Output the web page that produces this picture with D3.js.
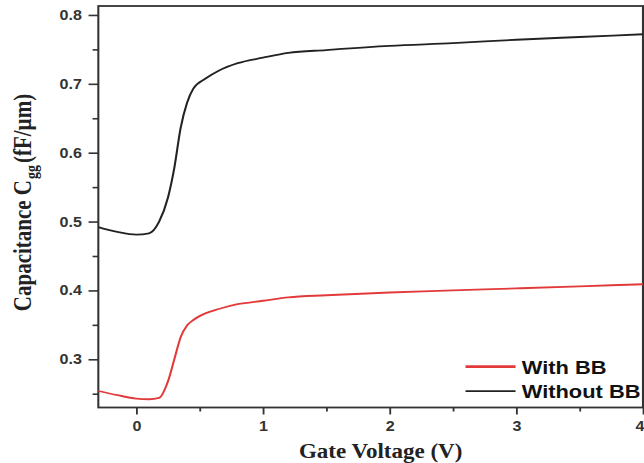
<!DOCTYPE html>
<html>
<head>
<meta charset="utf-8">
<script src="https://cdn.jsdelivr.net/npm/d3@7"></script>
<style>
  body { margin: 0; background: #fff; }
  svg { display: block; }
</style>
</head>
<body>
<div id="chart"></div>
<script>
// Cgg vs gate voltage, with / without back bias
const voltage   = [-0.3, -0.15, 0, 0.1, 0.18, 0.25, 0.3, 0.35, 0.4, 0.45, 0.55, 0.65, 0.8, 1.0, 1.2, 1.5, 2.0, 2.5, 3.0, 3.5, 4.0];
const withBB    = [0.254, 0.248, 0.243, 0.242, 0.244, 0.268, 0.300, 0.332, 0.349, 0.357, 0.367, 0.373, 0.380, 0.385, 0.390, 0.393, 0.397, 0.400, 0.403, 0.406, 0.409];
const withoutBB = [0.492, 0.485, 0.481, 0.483, 0.500, 0.535, 0.578, 0.636, 0.672, 0.693, 0.708, 0.719, 0.730, 0.738, 0.745, 0.749, 0.755, 0.759, 0.764, 0.768, 0.772];

const seriesNames  = ["With BB", "Without BB"];
const seriesColors = ["#e23a3a", "#222222"];

const xTicks      = [0, 1, 2, 3, 4];
const xMinorTicks = [0.5, 1.5, 2.5, 3.5];
const yTicks      = [0.3, 0.4, 0.5, 0.6, 0.7, 0.8];
const yMinorTicks = [0.25, 0.35, 0.45, 0.55, 0.65, 0.75];

// the source figure is stretched sideways, so draw narrow and stretch it
const S = 1.15;
const W = 644 / S, H = 463;
const plot = {left: 85.5, right: 559.1, top: 6, bottom: 407.5};

const svg = d3.select("#chart").append("svg")
    .attr("width", 644)
    .attr("height", 463)
    .attr("viewBox", "0 0 " + W + " " + H)
    .attr("preserveAspectRatio", "none");

const x = d3.scaleLinear().domain([-0.3, 4.0]).range([plot.left, plot.right]);
const y = d3.scaleLinear().domain([0.23, 0.813]).range([plot.bottom, plot.top]);

// axes
const xAxis = svg.append("g")
    .attr("transform", "translate(0," + plot.bottom + ")")
    .call(d3.axisBottom(x).tickValues(xTicks).tickFormat(d3.format("d")).tickSize(7).tickPadding(7));
svg.append("g")
    .attr("transform", "translate(0," + plot.bottom + ")")
    .call(d3.axisBottom(x).tickValues(xMinorTicks).tickFormat("").tickSize(4));

const yAxis = svg.append("g")
    .attr("transform", "translate(" + plot.left + ",0)")
    .call(d3.axisLeft(y).tickValues(yTicks).tickFormat(d3.format(".1f")).tickSize(8.5).tickPadding(5.7));
svg.append("g")
    .attr("transform", "translate(" + plot.left + ",0)")
    .call(d3.axisLeft(y).tickValues(yMinorTicks).tickFormat("").tickSize(5));

svg.selectAll(".domain").remove();
svg.selectAll(".tick line").attr("stroke", "#333").attr("stroke-width", 1.6);
svg.selectAll(".tick text")
    .attr("fill", "#333")
    .attr("font-family", "'Liberation Sans', Arial, sans-serif")
    .attr("font-weight", "bold")
    .attr("font-size", 14);

// last x label sits on the right edge, keep it inside
xAxis.selectAll(".tick text").filter(function(d) { return d === 4; })
    .attr("text-anchor", "end")
    .attr("x", 0.8);

// frame
svg.append("rect")
    .attr("x", plot.left)
    .attr("y", plot.top)
    .attr("width", plot.right - plot.left)
    .attr("height", plot.bottom - plot.top)
    .attr("fill", "none")
    .attr("stroke", "#333")
    .attr("stroke-width", 1.8);

// curves
const line = d3.line()
    .x(function(d, i) { return x(voltage[i]); })
    .y(function(d) { return y(d); })
    .curve(d3.curveMonotoneX);

[withBB, withoutBB].forEach(function(vals, k) {
  svg.append("path")
      .datum(vals)
      .attr("fill", "none")
      .attr("stroke", seriesColors[k])
      .attr("stroke-width", 1.8)
      .attr("d", line);
});

// legend
const legend = svg.append("g")
    .attr("font-family", "'Liberation Sans', Arial, sans-serif")
    .attr("font-weight", "bold")
    .attr("font-size", 19)
    .selectAll("g")
    .data(seriesNames)
    .enter().append("g")
    .attr("transform", function(d, i) { return "translate(0," + (366.7 + i * 24.5) + ")"; });

legend.append("line")
    .attr("x1", 404.8)
    .attr("x2", 448.3)
    .attr("stroke", function(d, i) { return seriesColors[i]; })
    .attr("stroke-width", function(d, i) { return i === 0 ? 2.8 : 1.8; });

legend.append("text")
    .attr("x", 453.7)
    .attr("y", 6.8)
    .attr("fill", "#111")
    .text(function(d) { return d; });

// axis titles
svg.append("text")
    .attr("x", 331)
    .attr("y", 458)
    .attr("text-anchor", "middle")
    .attr("font-family", "'Liberation Serif', 'Times New Roman', serif")
    .attr("font-weight", "bold")
    .attr("font-size", 20)
    .attr("fill", "#222")
    .text("Gate Voltage (V)");

const yTitle = svg.append("text")
    .attr("transform", "translate(27,202.5) rotate(-90)")
    .attr("text-anchor", "middle")
    .attr("font-family", "'Liberation Serif', 'Times New Roman', serif")
    .attr("font-weight", "bold")
    .attr("font-size", 21)
    .attr("fill", "#222");
yTitle.append("tspan").text("Capacitance C");
yTitle.append("tspan").attr("font-size", 14).attr("dy", 5).attr("dx", 1).text("gg");
yTitle.append("tspan").attr("dy", -5).attr("dx", 2).text("(fF/µm)");
</script>
</body>
</html>
